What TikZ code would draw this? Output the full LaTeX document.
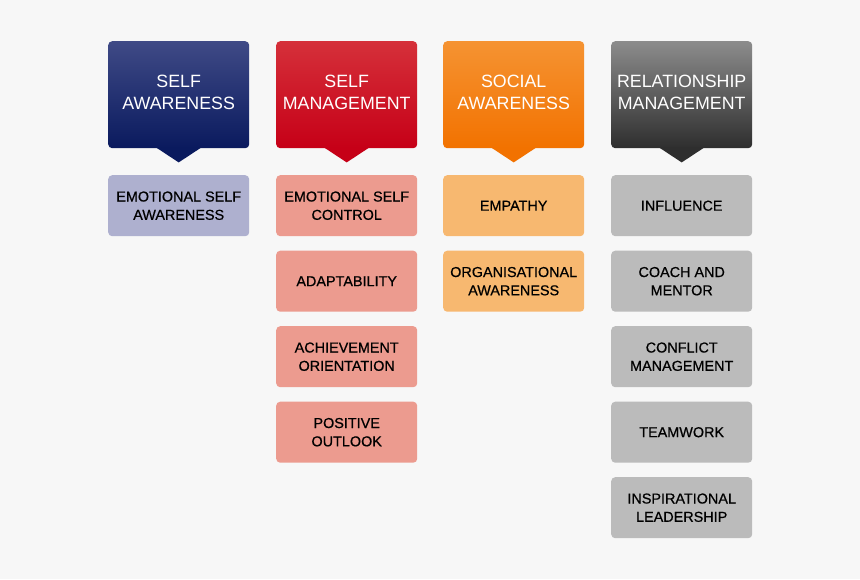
\documentclass[tikz,border=0pt]{standalone}
\usepackage{fontspec}
\setmainfont{Liberation Sans}
\newfontfamily\subfont[FakeBold=0.6]{Liberation Sans}
\begin{document}
\begin{tikzpicture}[x=1pt,y=-1pt,
  head/.style={minimum width=141pt,minimum height=107pt,rounded corners=4pt,text=white,
    font=\fontsize{17.8}{22.3}\selectfont,align=center,inner sep=0pt,anchor=north west,text depth=5pt},
  sub/.style={minimum width=141pt,minimum height=61pt,rounded corners=4pt,text=black,
    font=\subfont\fontsize{14.4}{18.3}\selectfont,align=center,inner sep=0pt,anchor=north west}]
\definecolor{bg}{HTML}{F7F7F7}
\definecolor{blueT}{HTML}{3F4A86}\definecolor{blueB}{HTML}{0A1A5E}
\definecolor{redT}{HTML}{D5303A}\definecolor{redB}{HTML}{C60017}
\definecolor{orT}{HTML}{F59332}\definecolor{orB}{HTML}{F27200}
\definecolor{grT}{HTML}{8C8C8C}\definecolor{grB}{HTML}{2E2E2E}
\definecolor{blueS}{HTML}{AEB0CF}\definecolor{redS}{HTML}{EC9B8F}
\definecolor{orS}{HTML}{F7B870}\definecolor{grS}{HTML}{BBBBBB}
\fill[bg] (0,0) rectangle (860,579);
\useasboundingbox (0,0) rectangle (860,579);
% headers
\foreach \x/\t/\b/\n/\txt in {108/blueT/blueB/h1/{SELF\\AWARENESS},276/redT/redB/h2/{SELF\\MANAGEMENT},443/orT/orB/h3/{SOCIAL\\AWARENESS},611/grT/grB/h4/{RELATIONSHIP\\MANAGEMENT}}{
  \node[head,top color=\t,bottom color=\b] (\n) at (\x,41) {\txt};
  \fill[\b] ([xshift=-22pt,yshift=0.5pt]\n.south) -- ([yshift=-14pt]\n.south) -- ([xshift=22pt,yshift=0.5pt]\n.south) -- cycle;
}
% sub boxes
\node[sub,fill=blueS] (a1) at (108,175) {EMOTIONAL SELF\\AWARENESS};
\node[sub,fill=redS] (b1) at (276,175) {EMOTIONAL SELF\\CONTROL};
\node[sub,fill=redS] (b2) at (276,250.5) {ADAPTABILITY};
\node[sub,fill=redS] (b3) at (276,326) {ACHIEVEMENT\\ORIENTATION};
\node[sub,fill=redS] (b4) at (276,401.5) {POSITIVE\\OUTLOOK};
\node[sub,fill=orS] (c1) at (443,175) {EMPATHY};
\node[sub,fill=orS] (c2) at (443,250.5) {ORGANISATIONAL\\AWARENESS};
\node[sub,fill=grS] (d1) at (611,175) {INFLUENCE};
\node[sub,fill=grS] (d2) at (611,250.5) {COACH AND\\MENTOR};
\node[sub,fill=grS] (d3) at (611,326) {CONFLICT\\MANAGEMENT};
\node[sub,fill=grS] (d4) at (611,401.5) {TEAMWORK};
\node[sub,fill=grS] (d5) at (611,477) {INSPIRATIONAL\\LEADERSHIP};
\end{tikzpicture}
\end{document}
